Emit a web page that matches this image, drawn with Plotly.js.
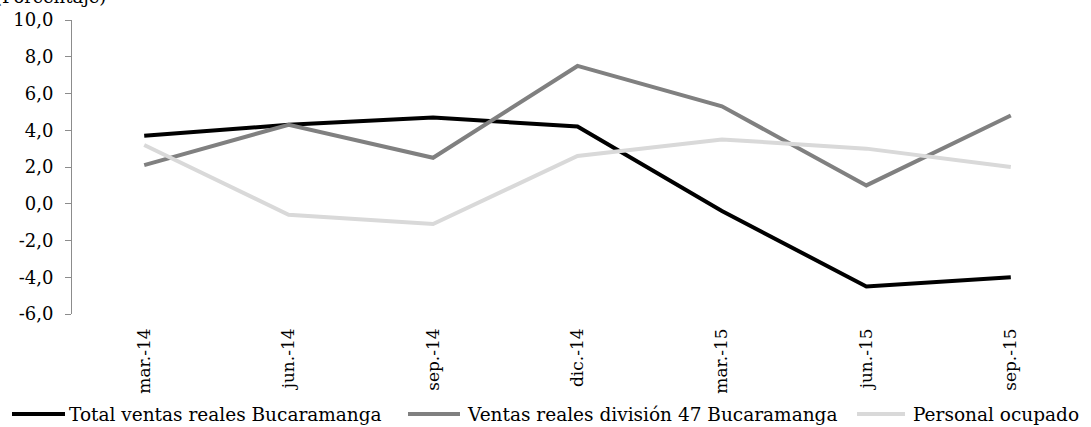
<!DOCTYPE html>
<html>
<head>
<meta charset="utf-8">
<script src="https://cdn.plot.ly/plotly-3.0.1.min.js"></script>
<style>
html,body{margin:0;padding:0;background:#fff;}
#chart{width:1091px;height:427px;}
</style>
</head>
<body>
<div id="chart"></div>
<script>
// ---- data ----
const categories = ['mar.-14','jun.-14','sep.-14','dic.-14','mar.-15','jun.-15','sep.-15'];
const totalVentas = [3.7, 4.3, 4.7, 4.2, -0.4, -4.5, -4.0];
const ventasDiv47 = [2.1, 4.3, 2.5, 7.5, 5.3, 1.0, 4.8];
const personalOcupado = [3.2, -0.6, -1.1, 2.6, 3.5, 3.0, 2.0];
const seriesNames = ['Total ventas reales Bucaramanga','Ventas reales división 47 Bucaramanga','Personal ocupado'];
const yTickVals = [-6, -4, -2, 0, 2, 4, 6, 8, 10];
const yTickText = ['-6,0','-4,0','-2,0','0,0','2,0','4,0','6,0','8,0','10,0'];
const yTitle = '(Porcentaje)';

// ---- styling ----
const FONT = 'DejaVu Serif, Liberation Serif, serif';
const colors = ['#000000', '#808080', '#d9d9d9'];
const axisGray = '#8c8c8c';
const W = 1091, H = 427;
const M = {l: 72, r: 8, t: 20, b: 113};
const pw = W - M.l - M.r, ph = H - M.t - M.b;
const px = x => (x - M.l) / pw;        // pixel -> paper x
const py = y => (H - M.b - y) / ph;    // pixel -> paper y

const seriesVals = [totalVentas, ventasDiv47, personalOcupado];
const traces = seriesVals.map((vals, i) => ({
  type: 'scatter', mode: 'lines', name: seriesNames[i],
  x: categories, y: vals,
  line: {color: colors[i], width: 4},
  showlegend: false, hoverinfo: 'skip'
}));

// manual legend
const legendLine = [[12, 65], [408, 460], [857, 905]];
const legendText = [67, 465, 911];
const legY = 414;
const shapes = legendLine.map((p, i) => ({
  type: 'line', xref: 'paper', yref: 'paper',
  x0: px(p[0]), x1: px(p[1]), y0: py(legY), y1: py(legY),
  line: {color: colors[i], width: 4}
}));
const annotations = seriesNames.map((n, i) => ({
  xref: 'paper', yref: 'paper', x: px(legendText[i]), y: py(legY),
  xanchor: 'left', yanchor: 'middle', showarrow: false, text: n,
  font: {family: FONT, size: 18.5, color: '#000'}
}));
annotations.push({
  xref: 'paper', yref: 'paper', x: px(-6), y: py(8),
  xanchor: 'left', yanchor: 'bottom', showarrow: false, text: yTitle, borderpad: 0,
  font: {family: FONT, size: 18, color: '#000'}
});

const layout = {
  width: W, height: H,
  margin: M,
  paper_bgcolor: '#fff', plot_bgcolor: '#fff',
  showlegend: false,
  font: {family: FONT, size: 17, color: '#000'},
  xaxis: {
    type: 'category', range: [-0.5, 6.5],
    showline: false, showgrid: false, zeroline: false, ticks: '',
    tickangle: -90, tickfont: {family: FONT, size: 17, color: '#000'},
    ticklabelstandoff: 10
  },
  xaxis2: {
    overlaying: 'x', anchor: 'free', position: py(203.75),
    type: 'linear', range: [-0.5, 6.5],
    tickmode: 'array', tickvals: [0,1,2,3,4,5,6],
    showticklabels: false, ticks: 'outside', ticklen: 5, tickcolor: axisGray, tickwidth: 1,
    showline: true, linecolor: axisGray, linewidth: 1, showgrid: false, zeroline: false
  },
  yaxis: {
    range: [-6, 10], tickmode: 'array', tickvals: yTickVals, ticktext: yTickText,
    showline: true, linecolor: axisGray, linewidth: 1,
    ticks: 'outside', ticklen: 6, tickcolor: axisGray, tickwidth: 1,
    showgrid: false, zeroline: false,
    tickfont: {family: FONT, size: 18, color: '#000'},
    ticklabelstandoff: 8
  },
  shapes: shapes,
  annotations: annotations
};

Plotly.newPlot('chart', traces, layout, {staticPlot: true, displayModeBar: false});
</script>
</body>
</html>
